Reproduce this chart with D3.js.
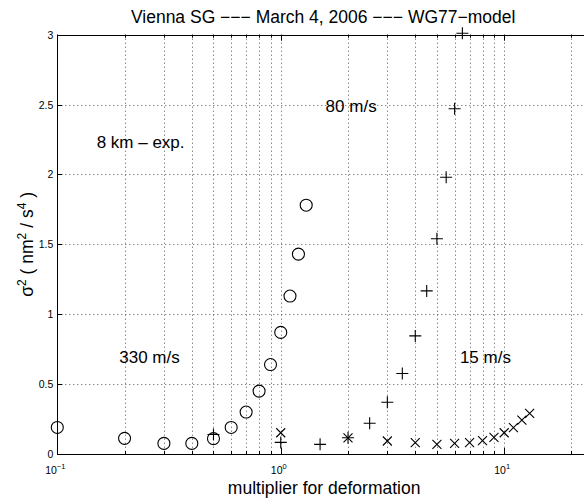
<!DOCTYPE html>
<html><head><meta charset="utf-8">
<script src="https://cdn.jsdelivr.net/npm/d3@7"></script>
<style>body{margin:0;background:#fff}svg{display:block;font-family:"Liberation Sans",Arial,sans-serif}</style>
</head><body><svg id="c" width="584" height="500"></svg>
<script>
// Data
const circleX = [0.1,0.2,0.3,0.4,0.5,0.6,0.7,0.8,0.9,1.0,1.1,1.2,1.3];
const circleY = [0.19,0.112,0.076,0.076,0.11,0.19,0.30,0.45,0.64,0.87,1.13,1.43,1.78];
const plusX = [0.5,1,1.5,2,2.5,3,3.5,4,4.5,5,5.5,6,6.5];
const plusY = [0.14,0.083,0.069,0.116,0.22,0.37,0.576,0.845,1.167,1.54,1.98,2.47,3.01];
const crossX = [1,2,3,4,5,6,7,8,9,10,11,12,13];
const crossY = [0.152,0.116,0.093,0.081,0.069,0.076,0.081,0.095,0.119,0.152,0.188,0.243,0.29];
const yTicks = [0,0.5,1,1.5,2,2.5,3];
const xMajor = [0.1,1,10];
const xMajorExp = ["\u22121","0","1"];
const xMinor = [0.2,0.3,0.4,0.5,0.6,0.7,0.8,0.9,2,3,4,5,6,7,8,9,20];
const labels = [
  {t:"8 km \u2013 exp.", x:0.150, y:2.19},
  {t:"80 m/s", x:1.588, y:2.445},
  {t:"330 m/s", x:0.1894, y:0.648},
  {t:"15 m/s", x:6.336, y:0.648}
];

const svg = d3.select("#c");
const L=57.3, R=585, T=34.7, B=454;
const x = d3.scaleLog().domain([0.1,23]).range([L,R]);
const y = d3.scaleLinear().domain([0,3]).range([B,T]);

// grid
const g = svg.append("g");
const gridX = xMinor.concat([1,10]);
g.selectAll(".gx").data(gridX).enter().append("line")
  .attr("x1",d=>Math.round(x(d))+0.5).attr("x2",d=>Math.round(x(d))+0.5)
  .attr("y1",T).attr("y2",B)
  .attr("stroke","#555").attr("stroke-width",1).attr("stroke-dasharray","1,3");
g.selectAll(".gy").data(yTicks.slice(1)).enter().append("line")
  .attr("x1",L).attr("x2",R)
  .attr("y1",d=>Math.round(y(d))+0.5).attr("y2",d=>Math.round(y(d))+0.5)
  .attr("stroke","#555").attr("stroke-width",1).attr("stroke-dasharray","1,3");

// axes lines
const ax = svg.append("g").attr("stroke","#000").attr("stroke-width",1);
ax.append("line").attr("x1",Math.round(L)+0.5).attr("x2",Math.round(L)+0.5).attr("y1",T).attr("y2",B+0.5);
ax.append("line").attr("x1",L).attr("x2",R).attr("y1",Math.round(B)+0.5).attr("y2",Math.round(B)+0.5);
ax.append("line").attr("x1",L).attr("x2",R).attr("y1",Math.round(T)+0.5).attr("y2",Math.round(T)+0.5);

// x ticks
xMajor.forEach(d=>{
  const px=Math.round(x(d))+0.5;
  ax.append("line").attr("x1",px).attr("x2",px).attr("y1",B).attr("y2",B-6);
  ax.append("line").attr("x1",px).attr("x2",px).attr("y1",T).attr("y2",T+6);
});
xMinor.forEach(d=>{
  const px=Math.round(x(d))+0.5;
  ax.append("line").attr("x1",px).attr("x2",px).attr("y1",B).attr("y2",B-3);
  ax.append("line").attr("x1",px).attr("x2",px).attr("y1",T).attr("y2",T+3);
});
// y ticks
yTicks.forEach(d=>{
  const py=Math.round(y(d))+0.5;
  ax.append("line").attr("x1",L).attr("x2",L+5).attr("y1",py).attr("y2",py);
});

// tick labels
svg.selectAll(".yl").data(yTicks).enter().append("text")
  .attr("x",L-4).attr("y",d=>y(d)+4).attr("text-anchor","end")
  .attr("font-size",10.5).text(d=>d3.format("~g")(d));
xMajor.forEach((d,i)=>{
  const t=svg.append("text").attr("x",x(d)-2).attr("y",473.5).attr("text-anchor","middle").attr("font-size",10.5);
  t.append("tspan").text("10");
  t.append("tspan").attr("font-size",7.5).attr("dy",-5).text(xMajorExp[i]);
});

// title & axis labels
svg.append("text").attr("x",(L+R)/2+2).attr("y",23).attr("text-anchor","middle").attr("font-size",17.5)
  .text("Vienna SG \u2212\u2212\u2212 March 4, 2006 \u2212\u2212\u2212 WG77\u2212model");
svg.append("text").attr("x",(L+R)/2+3).attr("y",494).attr("text-anchor","middle").attr("font-size",17.5)
  .text("multiplier for deformation");
const yl = svg.append("text").attr("transform",`translate(33,${(T+B)/2}) rotate(-90)`)
  .attr("text-anchor","middle").attr("font-size",17.5);
yl.append("tspan").text("\u03c3");
yl.append("tspan").attr("font-size",12).attr("dy",-7).text("2");
yl.append("tspan").attr("dy",7).text(" ( nm");
yl.append("tspan").attr("font-size",12).attr("dy",-7).text("2");
yl.append("tspan").attr("dy",7).text(" / s");
yl.append("tspan").attr("font-size",12).attr("dy",-7).text("4");
yl.append("tspan").attr("dy",7).text(" )");

// annotations
svg.selectAll(".ann").data(labels).enter().append("text")
  .attr("x",d=>x(d.x)).attr("y",d=>y(d.y)).attr("font-size",17).text(d=>d.t);

// markers
const m = svg.append("g").attr("fill","none").attr("stroke","#000").attr("stroke-width",1.1);
m.selectAll(".c").data(circleX.map((d,i)=>[d,circleY[i]])).enter().append("circle")
  .attr("cx",d=>x(d[0])).attr("cy",d=>y(d[1])).attr("r",6);
const ps=6;
m.selectAll(".p").data(plusX.map((d,i)=>[d,plusY[i]])).enter().append("path")
  .attr("d",d=>{const cx=x(d[0]),cy=y(d[1]);return `M${cx-ps},${cy}H${cx+ps}M${cx},${cy-ps}V${cy+ps}`;});
const cs=4.5;
m.selectAll(".x").data(crossX.map((d,i)=>[d,crossY[i]])).enter().append("path")
  .attr("d",d=>{const cx=x(d[0]),cy=y(d[1]);return `M${cx-cs},${cy-cs}L${cx+cs},${cy+cs}M${cx-cs},${cy+cs}L${cx+cs},${cy-cs}`;});
</script></body></html>
